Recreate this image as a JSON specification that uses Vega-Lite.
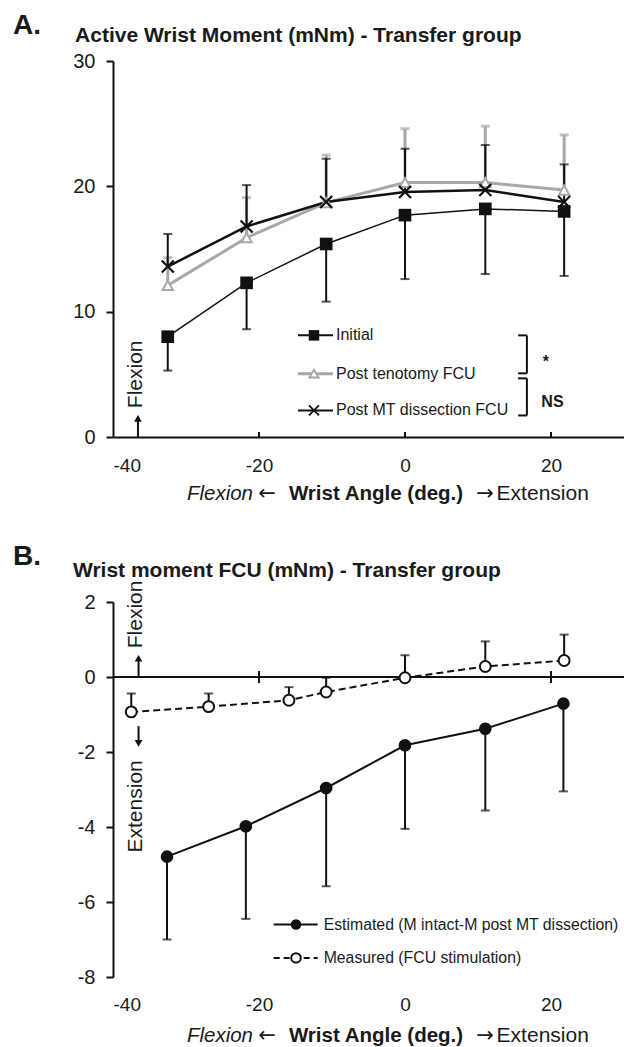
{
  "$schema": "https://vega.github.io/schema/vega-lite/v6.json",
  "padding": {"left": 12, "top": 12, "right": 0, "bottom": 0},
  "spacing": 38,
  "config": {
    "view": {"stroke": null},
    "font": "Liberation Sans",
    "axis": {"labelFont": "Liberation Sans", "labelColor": "#1a1a1a", "domainColor": "#111", "tickColor": "#111", "grid": false},
    "text": {"font": "Liberation Sans", "color": "#1a1a1a"}
  },
  "datasets": {
    "a": [
      {"s": "Initial", "x": -32.5, "y": 8.0, "end": 5.3},
      {"s": "Initial", "x": -21.7, "y": 12.3, "end": 8.6},
      {"s": "Initial", "x": -10.8, "y": 15.4, "end": 10.8},
      {"s": "Initial", "x": 0, "y": 17.7, "end": 12.6},
      {"s": "Initial", "x": 11, "y": 18.2, "end": 13.0},
      {"s": "Initial", "x": 21.8, "y": 18.0, "end": 12.85},
      {"s": "Post tenotomy FCU", "x": -32.5, "y": 12.1, "end": 14.3},
      {"s": "Post tenotomy FCU", "x": -21.7, "y": 15.9, "end": 19.1},
      {"s": "Post tenotomy FCU", "x": -10.8, "y": 18.7, "end": 22.5},
      {"s": "Post tenotomy FCU", "x": 0, "y": 20.3, "end": 24.6},
      {"s": "Post tenotomy FCU", "x": 11, "y": 20.3, "end": 24.8},
      {"s": "Post tenotomy FCU", "x": 21.8, "y": 19.7, "end": 24.1},
      {"s": "Post MT dissection FCU", "x": -32.5, "y": 13.6, "end": 16.2},
      {"s": "Post MT dissection FCU", "x": -21.7, "y": 16.8, "end": 20.1},
      {"s": "Post MT dissection FCU", "x": -10.8, "y": 18.75, "end": 22.2},
      {"s": "Post MT dissection FCU", "x": 0, "y": 19.55, "end": 23.0},
      {"s": "Post MT dissection FCU", "x": 11, "y": 19.7, "end": 23.3},
      {"s": "Post MT dissection FCU", "x": 21.8, "y": 18.75, "end": 21.75}
    ],
    "b": [
      {"s": "Estimated", "x": -32.6, "y": -4.79, "end": -7.0},
      {"s": "Estimated", "x": -21.8, "y": -3.98, "end": -6.45},
      {"s": "Estimated", "x": -10.8, "y": -2.96, "end": -5.58},
      {"s": "Estimated", "x": 0, "y": -1.82, "end": -4.05},
      {"s": "Estimated", "x": 11, "y": -1.38, "end": -3.56},
      {"s": "Estimated", "x": 21.7, "y": -0.71, "end": -3.05},
      {"s": "Measured", "x": -37.5, "y": -0.93, "end": -0.44},
      {"s": "Measured", "x": -26.9, "y": -0.79, "end": -0.44},
      {"s": "Measured", "x": -15.9, "y": -0.62, "end": -0.27},
      {"s": "Measured", "x": -10.8, "y": -0.4, "end": -0.02},
      {"s": "Measured", "x": 0, "y": -0.02, "end": 0.58},
      {"s": "Measured", "x": 11, "y": 0.28, "end": 0.95},
      {"s": "Measured", "x": 21.8, "y": 0.44, "end": 1.13}
    ]
  },
  "vconcat": [
    {
      "width": 511,
      "height": 376,
      "encoding": {
        "x": {"field": "x", "type": "quantitative", "title": null,
          "scale": {"domain": [-40, 30], "nice": false, "zero": false},
          "axis": {"values": [-40, -20, 0, 20], "labelExpr": "toString(datum.value)", "ticks": false, "labelPadding": 19, "labelFontSize": 19, "domainWidth": 2}},
        "y": {"field": "y", "type": "quantitative", "title": null,
          "scale": {"domain": [0, 30], "nice": false, "zero": false},
          "axis": {"values": [0, 10, 20, 30], "labelExpr": "toString(datum.value)", "tickSize": 7, "tickWidth": 2, "labelPadding": 11, "labelFontSize": 20, "domainWidth": 2}}
      },
      "layer": [
        {"data": {"name": "a"}, "transform": [{"filter": "datum.s == 'Post tenotomy FCU'"}],
          "mark": {"type": "rule", "color": "#a8a8a8", "strokeWidth": 3},
          "encoding": {"y2": {"field": "end"}}},
        {"data": {"name": "a"}, "transform": [{"filter": "datum.s == 'Post tenotomy FCU'"}],
          "mark": {"type": "tick", "orient": "horizontal", "color": "#a8a8a8", "size": 9, "thickness": 3},
          "encoding": {"y": {"field": "end", "type": "quantitative", "title": null,
            "axis": {"values": [0, 10, 20, 30], "labelExpr": "toString(datum.value)", "tickSize": 7, "tickWidth": 2, "labelPadding": 11, "labelFontSize": 20, "domainWidth": 2}}}},
        {"data": {"name": "a"}, "transform": [{"filter": "datum.s != 'Post tenotomy FCU'"}],
          "mark": {"type": "rule", "color": "#111", "strokeWidth": 2},
          "encoding": {"y2": {"field": "end"}}},
        {"data": {"name": "a"}, "transform": [{"filter": "datum.s != 'Post tenotomy FCU'"}],
          "mark": {"type": "tick", "orient": "horizontal", "color": "#111", "size": 9, "thickness": 2},
          "encoding": {"y": {"field": "end", "type": "quantitative", "title": null,
            "axis": {"values": [0, 10, 20, 30], "labelExpr": "toString(datum.value)", "tickSize": 7, "tickWidth": 2, "labelPadding": 11, "labelFontSize": 20, "domainWidth": 2}}}},
        {"data": {"name": "a"}, "transform": [{"filter": "datum.s == 'Post tenotomy FCU'"}],
          "mark": {"type": "line", "color": "#a8a8a8", "strokeWidth": 3}},
        {"data": {"name": "a"}, "transform": [{"filter": "datum.s == 'Post MT dissection FCU'"}],
          "mark": {"type": "line", "color": "#111", "strokeWidth": 2.5}},
        {"data": {"name": "a"}, "transform": [{"filter": "datum.s == 'Initial'"}],
          "mark": {"type": "line", "color": "#111", "strokeWidth": 1.5}},
        {"data": {"name": "a"}, "transform": [{"filter": "datum.s == 'Initial'"}],
          "mark": {"type": "point", "shape": "square", "filled": true, "color": "#111", "size": 160, "opacity": 1}},
        {"data": {"name": "a"}, "transform": [{"filter": "datum.s == 'Post tenotomy FCU'"}],
          "mark": {"type": "point", "shape": "triangle-up", "filled": true, "fill": "#fff", "stroke": "#a8a8a8", "strokeWidth": 2, "size": 110, "opacity": 1}},
        {"data": {"name": "a"}, "transform": [{"filter": "datum.s == 'Post MT dissection FCU'"}],
          "mark": {"type": "point", "shape": "M-1,-1L1,1M-1,1L1,-1", "filled": false, "stroke": "#111", "strokeWidth": 2.2, "size": 144, "opacity": 1}},
        {"data": {"values": [{"x": -20, "y": 0, "end": 0.4}, {"x": 0, "y": 0, "end": 0.4}, {"x": 20, "y": 0, "end": 0.4}]},
          "mark": {"type": "rule", "color": "#111", "strokeWidth": 2},
          "encoding": {"y2": {"field": "end"}}},
        {"data": {"values": [{"x": -14.66, "x2": -9.86, "y": 8.11}, {"x": -14.66, "x2": -9.86, "y": 2.12}]},
          "mark": {"type": "rule", "color": "#111", "strokeWidth": 2},
          "encoding": {"x2": {"field": "x2"}}},
        {"data": {"values": [{"x": -14.66, "x2": -9.86, "y": 5.05}]},
          "mark": {"type": "rule", "color": "#a8a8a8", "strokeWidth": 3},
          "encoding": {"x2": {"field": "x2"}}},
        {"data": {"values": [{"x": -12.47, "y": 8.11}]},
          "mark": {"type": "point", "shape": "square", "filled": true, "color": "#111", "size": 110, "opacity": 1}},
        {"data": {"values": [{"x": -12.47, "y": 5.05}]},
          "mark": {"type": "point", "shape": "triangle-up", "filled": true, "fill": "#fff", "stroke": "#a8a8a8", "strokeWidth": 2, "size": 80, "opacity": 1}},
        {"data": {"values": [{"x": -12.47, "y": 2.12}]},
          "mark": {"type": "point", "shape": "M-1,-1L1,1M-1,1L1,-1", "filled": false, "stroke": "#111", "strokeWidth": 1.8, "size": 100, "opacity": 1}},
        {"data": {"values": [{"x": -9.45, "y": 8.11, "t": "Initial"}, {"x": -9.45, "y": 5.05, "t": "Post tenotomy FCU"}, {"x": -9.45, "y": 2.12, "t": "Post MT dissection FCU"}]},
          "mark": {"type": "text", "align": "left", "baseline": "middle", "fontSize": 16},
          "encoding": {"text": {"field": "t"}}},
        {"data": {"values": [
            {"x": 16.7, "x2": 16.7, "y": 5.08, "y2": 8.11},
            {"x": 15.5, "x2": 16.7, "y": 8.11, "y2": 8.11},
            {"x": 15.5, "x2": 16.7, "y": 5.08, "y2": 5.08},
            {"x": 16.7, "x2": 16.7, "y": 1.72, "y2": 4.68},
            {"x": 15.5, "x2": 16.7, "y": 4.68, "y2": 4.68},
            {"x": 15.5, "x2": 16.7, "y": 1.72, "y2": 1.72}]},
          "mark": {"type": "rule", "color": "#111", "strokeWidth": 2},
          "encoding": {"x2": {"field": "x2"}, "y2": {"field": "y2"}}},
        {"data": {"values": [{"x": 19.3, "y": 6.0, "t": "*"}, {"x": 20.2, "y": 2.76, "t": "NS"}]},
          "mark": {"type": "text", "align": "center", "baseline": "middle", "fontSize": 16, "fontWeight": "bold"},
          "encoding": {"text": {"field": "t"}}},
        {"data": {"values": [{"x": -36.8, "y": 5.0, "t": "Flexion"}]},
          "mark": {"type": "text", "align": "center", "baseline": "middle", "angle": 270, "fontSize": 21},
          "encoding": {"text": {"field": "t"}}},
        {"data": {"values": [{"x": -36.58, "y": 0, "end": 1.5}]},
          "mark": {"type": "rule", "color": "#111", "strokeWidth": 2},
          "encoding": {"y2": {"field": "end"}}},
        {"data": {"values": [{"x": -36.58, "y": 1.48}]},
          "mark": {"type": "point", "shape": "triangle-up", "filled": true, "color": "#111", "size": 60, "opacity": 1}},
        {"data": {"values": [{"x": -53.7, "y": 32.13, "t": "A."}]},
          "mark": {"type": "text", "align": "left", "baseline": "alphabetic", "fontSize": 28, "fontWeight": "bold"},
          "encoding": {"text": {"field": "t"}}},
        {"data": {"values": [{"x": -45.2, "y": 31.49, "t": "Active Wrist Moment (mNm) - Transfer group"}]},
          "mark": {"type": "text", "align": "left", "baseline": "alphabetic", "fontSize": 21, "fontWeight": "bold"},
          "encoding": {"text": {"field": "t"}}},
        {"data": {"values": [{"x": -20.82, "y": -5.06, "t": "Flexion"}]},
          "mark": {"type": "text", "align": "right", "baseline": "alphabetic", "fontSize": 20.5, "fontStyle": "italic"},
          "encoding": {"text": {"field": "t"}}},
        {"data": {"values": [{"x": -18.9, "y": -5.06, "t": "←"}, {"x": 10.96, "y": -5.06, "t": "→"}]},
          "mark": {"type": "text", "align": "center", "baseline": "alphabetic", "fontSize": 21, "font": "DejaVu Sans"},
          "encoding": {"text": {"field": "t"}}},
        {"data": {"values": [{"x": -3.97, "y": -5.06, "t": "Wrist Angle (deg.)"}]},
          "mark": {"type": "text", "align": "center", "baseline": "alphabetic", "fontSize": 20.5, "fontWeight": "bold"},
          "encoding": {"text": {"field": "t"}}},
        {"data": {"values": [{"x": 12.55, "y": -5.06, "t": "Extension"}]},
          "mark": {"type": "text", "align": "left", "baseline": "alphabetic", "fontSize": 21},
          "encoding": {"text": {"field": "t"}}}
      ]
    },
    {
      "width": 511,
      "height": 375,
      "encoding": {
        "x": {"field": "x", "type": "quantitative", "title": null,
          "scale": {"domain": [-40, 30], "nice": false, "zero": false},
          "axis": {"values": [-40, -20, 0, 20], "labelExpr": "toString(datum.value)", "ticks": false, "domain": false, "labelPadding": 18, "labelFontSize": 19}},
        "y": {"field": "y", "type": "quantitative", "title": null,
          "scale": {"domain": [-8, 2], "nice": false, "zero": false},
          "axis": {"values": [-8, -6, -4, -2, 0, 2], "labelExpr": "toString(datum.value)", "tickSize": 7, "tickWidth": 2, "labelPadding": 11, "labelFontSize": 20, "domainWidth": 2}}
      },
      "layer": [
        {"data": {"values": [{"x": -40, "x2": 30, "y": 0}]},
          "mark": {"type": "rule", "color": "#111", "strokeWidth": 2},
          "encoding": {"x2": {"field": "x2"}}},
        {"data": {"values": [{"x": -20, "y": -0.16, "end": 0.16}, {"x": 0, "y": -0.16, "end": 0.16}, {"x": 20, "y": -0.16, "end": 0.16}]},
          "mark": {"type": "rule", "color": "#111", "strokeWidth": 2},
          "encoding": {"y2": {"field": "end"}}},
        {"data": {"name": "b"},
          "mark": {"type": "rule", "color": "#111", "strokeWidth": 2},
          "encoding": {"y2": {"field": "end"}}},
        {"data": {"name": "b"},
          "mark": {"type": "tick", "orient": "horizontal", "color": "#111", "size": 9, "thickness": 2},
          "encoding": {"y": {"field": "end", "type": "quantitative", "title": null,
            "axis": {"values": [-8, -6, -4, -2, 0, 2], "labelExpr": "toString(datum.value)", "tickSize": 7, "tickWidth": 2, "labelPadding": 11, "labelFontSize": 20, "domainWidth": 2}}}},
        {"data": {"name": "b"}, "transform": [{"filter": "datum.s == 'Estimated'"}],
          "mark": {"type": "line", "color": "#111", "strokeWidth": 2}},
        {"data": {"name": "b"}, "transform": [{"filter": "datum.s == 'Measured'"}],
          "mark": {"type": "line", "color": "#111", "strokeWidth": 2, "strokeDash": [7, 4]}},
        {"data": {"name": "b"}, "transform": [{"filter": "datum.s == 'Estimated'"}],
          "mark": {"type": "point", "shape": "circle", "filled": true, "color": "#111", "size": 160, "opacity": 1}},
        {"data": {"name": "b"}, "transform": [{"filter": "datum.s == 'Measured'"}],
          "mark": {"type": "point", "shape": "circle", "filled": true, "fill": "#fff", "stroke": "#111", "strokeWidth": 2, "size": 120, "opacity": 1}},
        {"data": {"values": [{"x": -17.99, "x2": -11.96, "y": -6.6}]},
          "mark": {"type": "rule", "color": "#111", "strokeWidth": 2},
          "encoding": {"x2": {"field": "x2"}}},
        {"data": {"values": [{"x": -17.99, "x2": -11.96, "y": -7.49}]},
          "mark": {"type": "rule", "color": "#111", "strokeWidth": 2, "strokeDash": [6, 4]},
          "encoding": {"x2": {"field": "x2"}}},
        {"data": {"values": [{"x": -14.93, "y": -6.6}]},
          "mark": {"type": "point", "shape": "circle", "filled": true, "color": "#111", "size": 110, "opacity": 1}},
        {"data": {"values": [{"x": -14.93, "y": -7.49}]},
          "mark": {"type": "point", "shape": "circle", "filled": true, "fill": "#fff", "stroke": "#111", "strokeWidth": 2, "size": 90, "opacity": 1}},
        {"data": {"values": [{"x": -11.14, "y": -6.6, "t": "Estimated (M intact-M post MT dissection)"}, {"x": -11.14, "y": -7.49, "t": "Measured (FCU stimulation)"}]},
          "mark": {"type": "text", "align": "left", "baseline": "middle", "fontSize": 15.8},
          "encoding": {"text": {"field": "t"}}},
        {"data": {"values": [{"x": -36.8, "y": 1.67, "t": "Flexion"}, {"x": -36.8, "y": -3.45, "t": "Extension"}]},
          "mark": {"type": "text", "align": "center", "baseline": "middle", "angle": 270, "fontSize": 21},
          "encoding": {"text": {"field": "t"}}},
        {"data": {"values": [{"x": -36.5, "y": 0, "end": 0.5}, {"x": -36.5, "y": -1.31, "end": -1.75}]},
          "mark": {"type": "rule", "color": "#111", "strokeWidth": 2},
          "encoding": {"y2": {"field": "end"}}},
        {"data": {"values": [{"x": -36.5, "y": 0.5}]},
          "mark": {"type": "point", "shape": "triangle-up", "filled": true, "color": "#111", "size": 60, "opacity": 1}},
        {"data": {"values": [{"x": -36.5, "y": -1.77}]},
          "mark": {"type": "point", "shape": "triangle-down", "filled": true, "color": "#111", "size": 60, "opacity": 1}},
        {"data": {"values": [{"x": -53.7, "y": 2.98, "t": "B."}]},
          "mark": {"type": "text", "align": "left", "baseline": "alphabetic", "fontSize": 28, "fontWeight": "bold"},
          "encoding": {"text": {"field": "t"}}},
        {"data": {"values": [{"x": -45.48, "y": 2.66, "t": "Wrist moment FCU (mNm) - Transfer group"}]},
          "mark": {"type": "text", "align": "left", "baseline": "alphabetic", "fontSize": 21, "fontWeight": "bold"},
          "encoding": {"text": {"field": "t"}}},
        {"data": {"values": [{"x": -20.82, "y": -9.72, "t": "Flexion"}]},
          "mark": {"type": "text", "align": "right", "baseline": "alphabetic", "fontSize": 20.5, "fontStyle": "italic"},
          "encoding": {"text": {"field": "t"}}},
        {"data": {"values": [{"x": -18.9, "y": -9.72, "t": "←"}, {"x": 10.96, "y": -9.72, "t": "→"}]},
          "mark": {"type": "text", "align": "center", "baseline": "alphabetic", "fontSize": 21, "font": "DejaVu Sans"},
          "encoding": {"text": {"field": "t"}}},
        {"data": {"values": [{"x": -3.97, "y": -9.72, "t": "Wrist Angle (deg.)"}]},
          "mark": {"type": "text", "align": "center", "baseline": "alphabetic", "fontSize": 20.5, "fontWeight": "bold"},
          "encoding": {"text": {"field": "t"}}},
        {"data": {"values": [{"x": 12.55, "y": -9.72, "t": "Extension"}]},
          "mark": {"type": "text", "align": "left", "baseline": "alphabetic", "fontSize": 21},
          "encoding": {"text": {"field": "t"}}}
      ]
    }
  ]
}
